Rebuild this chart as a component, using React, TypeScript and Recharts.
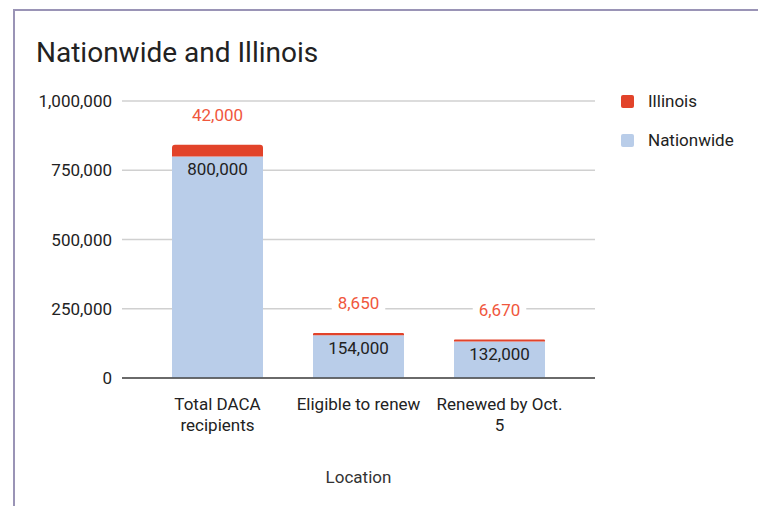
import * as React from "react";
import { Bar, BarChart, CartesianGrid, LabelList, Text, XAxis, YAxis } from "recharts";

const categories = ["Total DACA recipients", "Eligible to renew", "Renewed by Oct. 5"];
const nationwide = [800000, 154000, 132000];
const illinois = [42000, 8650, 6670];
const yTicks = [0, 250000, 500000, 750000, 1000000];

const RED = "#e2432a";
const BLUE = "#b9cde9";
const FONT = "Roboto, 'Noto Sans', sans-serif";

const data = categories.map((name, i) => ({
  name,
  nationwide: nationwide[i],
  illinois: illinois[i],
}));

const fmt = (v: number) => v.toLocaleString("en-US");

function CategoryTick(props: any) {
  const { x, y, payload } = props;
  return (
    <Text
      x={x}
      y={y}
      width={128}
      textAnchor="middle"
      verticalAnchor="start"
      lineHeight={21}
      fontSize={17}
      fill="#222"
      fontFamily={FONT}
      style={{ fontSize: 17, fontFamily: FONT }}
    >
      {payload.value}
    </Text>
  );
}

function IllinoisLabel(props: any) {
  const { x, y, width, value } = props;
  const cx = x + width / 2;
  const cy = y - 30;
  const label = fmt(value);
  const w = label.length * 9.5 + 6;
  return (
    <g>
      <rect x={cx - w / 2} y={cy - 10} width={w} height={20} fill="#fff" />
      <text
        x={cx}
        y={cy}
        textAnchor="middle"
        dominantBaseline="central"
        fontSize={17}
        fill="#f0573d"
        fontFamily={FONT}
      >
        {label}
      </text>
    </g>
  );
}

function NationLabel(props: any) {
  const { x, y, width, value } = props;
  return (
    <text
      x={x + width / 2}
      y={y + 13}
      textAnchor="middle"
      dominantBaseline="central"
      fontSize={17}
      fill="#222"
      fontFamily={FONT}
    >
      {fmt(value)}
    </text>
  );
}

export default function App() {
  return (
    <div
      style={{
        position: "absolute",
        left: 0,
        top: 0,
        width: 758,
        height: 506,
        background: "#fff",
        fontFamily: FONT,
        overflow: "hidden",
      }}
    >
      <div style={{ position: "absolute", left: 13, top: 9, width: 745, height: 2, background: "#9a94b6" }} />
      <div style={{ position: "absolute", left: 13, top: 9, width: 2, height: 497, background: "#9a94b6" }} />
      <div
        style={{
          position: "absolute",
          left: 36,
          top: 36,
          fontSize: 28,
          color: "#222",
          lineHeight: "34px",
        }}
      >
        Nationwide and Illinois
      </div>

      <div style={{ position: "absolute", left: 0, top: 0 }}>
        <BarChart
          width={758}
          height={506}
          data={data}
          margin={{ top: 101, right: 163, bottom: 0, left: 0 }}
        >
          <CartesianGrid vertical={false} stroke="#d0d0d0" strokeWidth={1.5} />
          <XAxis
            dataKey="name"
            height={128}
            padding={{ left: 25, right: 25 }}
            tickLine={false}
            axisLine={{ stroke: "#444", strokeWidth: 1.5 }}
            tick={<CategoryTick />}
            tickMargin={14}
            interval={0}
            label={{
              value: "Location",
              position: "insideBottom",
              offset: 23,
              fontSize: 17,
              fill: "#333",
              fontFamily: FONT,
            }}
          />
          <YAxis
            width={122}
            domain={[0, 1000000]}
            ticks={yTicks}
            tickFormatter={fmt}
            axisLine={false}
            tickLine={false}
            tickSize={0}
            tickMargin={10}
            tick={{ fontSize: 17, fill: "#222", fontFamily: FONT }}
          />
          <Bar dataKey="nationwide" stackId="a" fill={BLUE} barSize={91} isAnimationActive={false}>
            <LabelList dataKey="nationwide" content={<NationLabel />} />
          </Bar>
          <Bar
            dataKey="illinois"
            stackId="a"
            fill={RED}
            barSize={91}
            radius={[3, 3, 0, 0]}
            isAnimationActive={false}
          >
            <LabelList dataKey="illinois" content={<IllinoisLabel />} />
          </Bar>
        </BarChart>
      </div>

      <div style={{ position: "absolute", left: 621, top: 92, fontSize: 17, color: "#222" }}>
        {[
          { name: "Illinois", color: RED },
          { name: "Nationwide", color: BLUE },
        ].map((item) => (
          <div key={item.name} style={{ display: "flex", alignItems: "center", height: 18, marginBottom: 21 }}>
            <span
              style={{
                width: 13,
                height: 13,
                borderRadius: 2,
                background: item.color,
                marginRight: 14,
                display: "inline-block",
              }}
            />
            {item.name}
          </div>
        ))}
      </div>
    </div>
  );
}
